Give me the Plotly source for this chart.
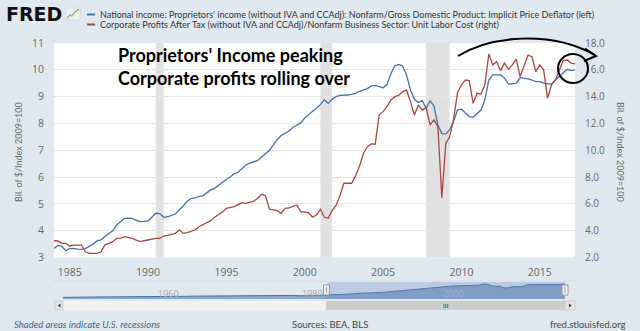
import plotly.graph_objects as go

# ---------------- data ----------------
years = list(range(1984, 2018))
quarter_months = [1, 4, 7, 10]
dates = [f"{y}-{m:02d}-01" for y in years for m in quarter_months][:134]

proprietors = [
    3.34, 3.45, 3.42, 3.25,   # 1984
    3.33, 3.34, 3.31, 3.30,   # 1985
    3.33, 3.40, 3.50, 3.62,   # 1986
    3.66, 3.78, 3.90, 4.00,   # 1987
    4.21, 4.32, 4.46, 4.47,   # 1988
    4.46, 4.38, 4.34, 4.35,   # 1989
    4.37, 4.50, 4.65, 4.64,   # 1990
    4.50, 4.52, 4.58, 4.62,   # 1991
    4.78, 4.92, 5.10, 5.20,   # 1992
    5.22, 5.28, 5.30, 5.40,   # 1993
    5.52, 5.58, 5.70, 5.80,   # 1994
    5.92, 6.00, 6.12, 6.18,   # 1995
    6.30, 6.45, 6.52, 6.58,   # 1996
    6.62, 6.75, 6.86, 7.00,   # 1997
    7.20, 7.40, 7.55, 7.62,   # 1998
    7.72, 7.85, 7.95, 8.02,   # 1999
    8.20, 8.32, 8.44, 8.55,   # 2000
    8.70, 8.88, 8.75, 8.90,   # 2001
    9.00, 9.05, 9.05, 9.06,   # 2002
    9.08, 9.12, 9.20, 9.25,   # 2003
    9.30, 9.40, 9.42, 9.37,   # 2004
    9.33, 9.45, 9.85, 10.15,  # 2005
    10.20, 10.14, 9.81, 9.25, # 2006
    8.90, 8.78, 8.85, 8.57,   # 2007
    8.84, 8.65, 7.94, 7.62,   # 2008
    7.61, 7.76, 8.07, 8.50,   # 2009
    8.53, 8.40, 8.25, 8.23,   # 2010
    8.38, 8.50, 8.88, 9.62,   # 2011
    9.81, 9.81, 9.81, 9.69,   # 2012
    9.47, 9.48, 9.50, 9.71,   # 2013
    9.69, 9.66, 9.62, 9.56,   # 2014
    9.56, 9.50, 9.48, 9.47,   # 2015
    9.62, 9.75, 9.87, 10.02,  # 2016
    9.97, 10.00,              # 2017
]

corp_profits = [
    3.25, 3.23, 3.06, 3.06,   # 1984
    2.86, 2.93, 2.93, 2.93,   # 1985
    2.43, 2.31, 2.31, 2.31,   # 1986
    2.43, 2.93, 3.05, 3.18,   # 1987
    3.43, 3.45, 3.55, 3.50,   # 1988
    3.43, 3.30, 3.18, 3.25,   # 1989
    3.31, 3.40, 3.43, 3.43,   # 1990
    3.60, 3.65, 3.75, 3.80,   # 1991
    4.05, 3.80, 3.85, 3.93,   # 1992
    4.05, 4.30, 4.45, 4.60,   # 1993
    4.75, 5.00, 5.17, 5.40,   # 1994
    5.67, 5.75, 5.80, 5.95,   # 1995
    6.09, 6.04, 6.10, 6.20,   # 1996
    6.42, 6.72, 6.61, 5.60,   # 1997
    5.55, 5.49, 5.30, 5.67,   # 1998
    5.70, 5.79, 5.92, 5.42,   # 1999
    5.40, 5.34, 5.00, 5.17,   # 2000
    5.60, 5.00, 4.93, 5.50,   # 2001
    5.90, 6.60, 7.54, 7.54,   # 2002
    7.54, 8.10, 8.80, 9.78,   # 2003
    10.27, 10.47, 10.45, 12.63,  # 2004
    12.88, 13.25, 13.75, 14.00,  # 2005
    14.10, 14.37, 14.50, 13.63,  # 2006
    12.63, 13.38, 13.00, 13.18,  # 2007
    11.89, 12.26, 11.76, 6.45,   # 2008
    10.50, 11.00, 12.30, 14.30,  # 2009
    14.87, 15.25, 15.20, 13.50,  # 2010
    14.25, 14.20, 14.87, 17.18,  # 2011
    16.37, 16.60, 15.94, 16.50,  # 2012
    16.05, 16.37, 16.80, 15.50,  # 2013
    16.37, 17.10, 16.98, 15.87,  # 2014
    16.37, 16.00, 13.88, 14.87,  # 2015
    15.25, 16.00, 16.70, 16.73,  # 2016
    16.50, 16.45,                # 2017
]

# navigator (full history of the first series), annual estimates before 1984
nav_early_years = list(range(1947, 1984))
nav_early_values = [
    1.55, 1.70, 1.60, 1.70, 1.80, 1.85, 1.85, 1.85, 1.95, 1.95,
    2.00, 2.00, 2.05, 2.00, 2.05, 2.10, 2.15, 2.25, 2.35, 2.40,
    2.40, 2.45, 2.45, 2.40, 2.45, 2.55, 2.60, 2.50, 2.50, 2.60,
    2.70, 2.80, 2.80, 2.60, 2.55, 2.60, 2.95,
]

recessions = [("1990-07-01", "1991-01-01"), ("2001-01-01", "2001-10-01"), ("2007-10-01", "2009-04-01")]

xtick_vals = ["1985-01-01", "1990-01-01", "1995-01-01", "2000-01-01", "2005-01-01", "2010-01-01", "2015-01-01"]
xtick_text = ["1985", "1990", "1995", "2000", "2005", "2010", "2015"]
nav_labels = [("1960", 168), ("1980", 312), ("2000", 453)]

legend_1 = "National income: Proprietors' income (without IVA and CCAdj): Nonfarm/Gross Domestic Product: Implicit Price Deflator (left)"
legend_2 = "Corporate Profits After Tax (without IVA and CCAdj)/Nonfarm Business Sector: Unit Labor Cost (right)"
axis_title = "Bil. of $/Index 2009=100"

BLUE = "#4572a7"
RED = "#aa4643"
BG = "#e1e9f0"

# ---------------- layout geometry (pixels) ----------------
W_TOT, H_TOT = 640, 331
ML, MR, MT, MB = 54, 65, 43, 20
PW = W_TOT - ML - MR
PH = H_TOT - MT - MB


def px(x):
    return (x - ML) / PW


def py(y):
    return (H_TOT - MB - y) / PH


main_bottom = 257.5
nav_top, nav_bot = 282, 299
nav_left, nav_right = 63, 565

nav_dates = [f"{y}-01-01" for y in nav_early_years] + dates
nav_values = nav_early_values + proprietors

fig = go.Figure()

fig.add_trace(go.Scatter(x=dates, y=proprietors, mode="lines",
                         line=dict(color=BLUE, width=1.3), xaxis="x", yaxis="y", showlegend=False))
fig.add_trace(go.Scatter(x=dates, y=corp_profits, mode="lines",
                         line=dict(color=RED, width=1.3), xaxis="x", yaxis="y2", showlegend=False))
fig.add_trace(go.Scatter(x=nav_dates, y=nav_values, mode="lines", fill="tozeroy",
                         fillcolor="rgba(69,114,167,0.55)",
                         line=dict(color=BLUE, width=1), xaxis="x2", yaxis="y3", showlegend=False))

shapes = []
# white plot background
shapes.append(dict(type="rect", xref="paper", yref="paper", x0=0, x1=1, y0=py(main_bottom), y1=1,
                   fillcolor="white", line=dict(width=0), layer="below"))
# recession shading
for a, b in recessions:
    shapes.append(dict(type="rect", xref="x", yref="y domain", x0=a, x1=b, y0=0, y1=1,
                       fillcolor="#e1e1e1", line=dict(width=0), layer="below"))
# navigator top line
shapes.append(dict(type="line", xref="paper", yref="paper", x0=px(53), x1=px(575), y0=py(281), y1=py(281),
                   line=dict(color="#d3dbe4", width=1)))
# navigator selection mask
shapes.append(dict(type="rect", xref="x2", yref="paper", x0="1984-01-01", x1="2017-04-01",
                   y0=py(nav_bot), y1=py(nav_top), fillcolor="rgba(102,133,194,0.3)", line=dict(width=0)))
# scrollbar
shapes.append(dict(type="rect", xref="paper", yref="paper", x0=px(55), x1=px(575), y0=py(310), y1=py(301),
                   fillcolor="#f2f2f2", line=dict(width=0)))
shapes.append(dict(type="rect", xref="paper", yref="paper", x0=px(55), x1=px(63), y0=py(310), y1=py(301),
                   fillcolor="#e6e6e6", line=dict(color="#cccccc", width=1)))
shapes.append(dict(type="rect", xref="paper", yref="paper", x0=px(326), x1=px(565), y0=py(310), y1=py(301),
                   fillcolor="#cccccc", line=dict(width=0)))
shapes.append(dict(type="rect", xref="paper", yref="paper", x0=px(565), x1=px(575), y0=py(310), y1=py(301),
                   fillcolor="#e6e6e6", line=dict(color="#cccccc", width=1)))


def path_px(pts, close=False):
    s = ""
    for i, (x, y) in enumerate(pts):
        s += ("M" if i == 0 else "L") + f"{px(x):.5f},{py(y):.5f} "
    if close:
        s += "Z"
    return s


shapes.append(dict(type="path", xref="paper", yref="paper",
                   path=path_px([(60.5, 303.5), (60.5, 307.5), (57.8, 305.5)], True),
                   fillcolor="#333", line=dict(width=0)))
shapes.append(dict(type="path", xref="paper", yref="paper",
                   path=path_px([(569, 303.5), (569, 307.5), (571.7, 305.5)], True),
                   fillcolor="#333", line=dict(width=0)))
# navigator handles
for hx in (326.5, 565):
    shapes.append(dict(type="rect", xref="paper", yref="paper", x0=px(hx - 3), x1=px(hx + 3),
                       y0=py(295), y1=py(285), fillcolor="#f2f2f2", line=dict(color="#999", width=1)))
    shapes.append(dict(type="line", xref="paper", yref="paper", x0=px(hx), x1=px(hx),
                       y0=py(293), y1=py(287), line=dict(color="#999", width=1)))
# legend swatches
shapes.append(dict(type="line", xref="paper", yref="paper", x0=px(87), x1=px(95), y0=py(14.5), y1=py(14.5),
                   line=dict(color=BLUE, width=2)))
shapes.append(dict(type="line", xref="paper", yref="paper", x0=px(87), x1=px(95), y0=py(24.5), y1=py(24.5),
                   line=dict(color=RED, width=2)))
# FRED icon
shapes.append(dict(type="rect", xref="paper", yref="paper", x0=px(66), x1=px(80), y0=py(20), y1=py(8),
                   fillcolor="#eef1f4", line=dict(color="#d8dde3", width=1)))
shapes.append(dict(type="path", xref="paper", yref="paper",
                   path=path_px([(67, 18), (70, 15), (72, 16), (75, 12), (79, 9)]),
                   line=dict(color="#7cb35a", width=1.2)))


# hand-drawn arrow and circle
def cubic_px(p0, c1, c2, p1):
    return (f"M{px(p0[0]):.5f},{py(p0[1]):.5f} C{px(c1[0]):.5f},{py(c1[1]):.5f} "
            f"{px(c2[0]):.5f},{py(c2[1]):.5f} {px(p1[0]):.5f},{py(p1[1]):.5f}")


shapes.append(dict(type="path", xref="paper", yref="paper",
                   path=cubic_px((458, 56), (490, 36), (550, 30), (595, 55)),
                   line=dict(color="black", width=2)))
shapes.append(dict(type="path", xref="paper", yref="paper",
                   path=path_px([(585, 48.5), (596, 56), (584, 61)]),
                   line=dict(color="black", width=2)))
shapes.append(dict(type="circle", xref="paper", yref="paper", x0=px(558), x1=px(588), y0=py(83), y1=py(54),
                   line=dict(color="black", width=2)))

annotations = []


def txt(text, x, y, size, color, xanchor="left", family="Lato", angle=0):
    annotations.append(dict(text=text, x=px(x), y=py(y), xref="paper", yref="paper", showarrow=False,
                            xanchor=xanchor, yanchor="middle", textangle=angle,
                            font=dict(family=family, size=size, color=color)))


txt("<b>FRED</b>", 4, 14, 19, "#111", family="DejaVu Sans")
txt(legend_1, 98, 14.5, 9, "#333")
txt(legend_2, 98, 24.5, 9, "#333")
txt("<b>Proprietors' Income peaking</b>", 116, 55, 18, "black")
txt("<b>Corporate profits rolling over</b>", 116, 78, 18, "black")
txt(axis_title, 18, 152, 9, "#666", xanchor="center", angle=-90)
txt(axis_title, 621, 152, 9, "#666", xanchor="center", angle=90)
txt("<i>Shaded areas indicate U.S. recessions</i>", 12, 324, 9.5, "#44618a")
txt("Sources: BEA, BLS", 330, 324, 9.5, "#444", xanchor="center")
txt("fred.stlouisfed.org", 627, 324, 9.5, "#444", xanchor="right")
for lab, lx in nav_labels:
    txt(lab, lx, 293, 9, "#a0a8b4" if lab != "2000" else "#9fb1d0", xanchor="center", family="Open Sans")
txt("III", 445.5, 305.5, 6.5, "#333", xanchor="center")

tick_font = dict(family="Open Sans", size=10.5, color="#666")

fig.update_layout(
    width=W_TOT, height=H_TOT,
    margin=dict(l=ML, r=MR, t=MT, b=MB, autoexpand=False),
    paper_bgcolor=BG, plot_bgcolor="rgba(0,0,0,0)",
    showlegend=False,
    shapes=shapes,
    annotations=annotations,
    xaxis=dict(domain=[0, 1], anchor="y", type="date", range=["1984-01-01", "2017-04-01"],
               tickvals=xtick_vals, ticktext=xtick_text, showgrid=False, zeroline=False,
               showline=False, ticks="", tickfont=tick_font, ticklabelstandoff=7),
    yaxis=dict(domain=[py(main_bottom), 1], anchor="x", range=[3, 11], dtick=1, tick0=3,
               showgrid=True, gridcolor="#e6e6e6", gridwidth=1, zeroline=False,
               ticks="", tickfont=tick_font, ticklabelstandoff=9),
    yaxis2=dict(overlaying="y", side="right", anchor="x", range=[2, 18], dtick=2, tick0=2,
                tickformat=".1f", showgrid=False, zeroline=False, ticks="",
                tickfont=dict(family="Open Sans", size=10, color="#666"), ticklabelstandoff=9),
    xaxis2=dict(domain=[px(nav_left), px(nav_right)], anchor="y3", type="date",
                range=["1947-01-01", "2017-04-01"], showgrid=False, zeroline=False,
                showticklabels=False, ticks="", showline=False),
    yaxis3=dict(domain=[py(nav_bot), py(nav_top)], anchor="x2", range=[0.5, 11.5],
                showgrid=False, zeroline=False, showticklabels=False, ticks="", showline=False),
)

fig.write_html("out.html")
